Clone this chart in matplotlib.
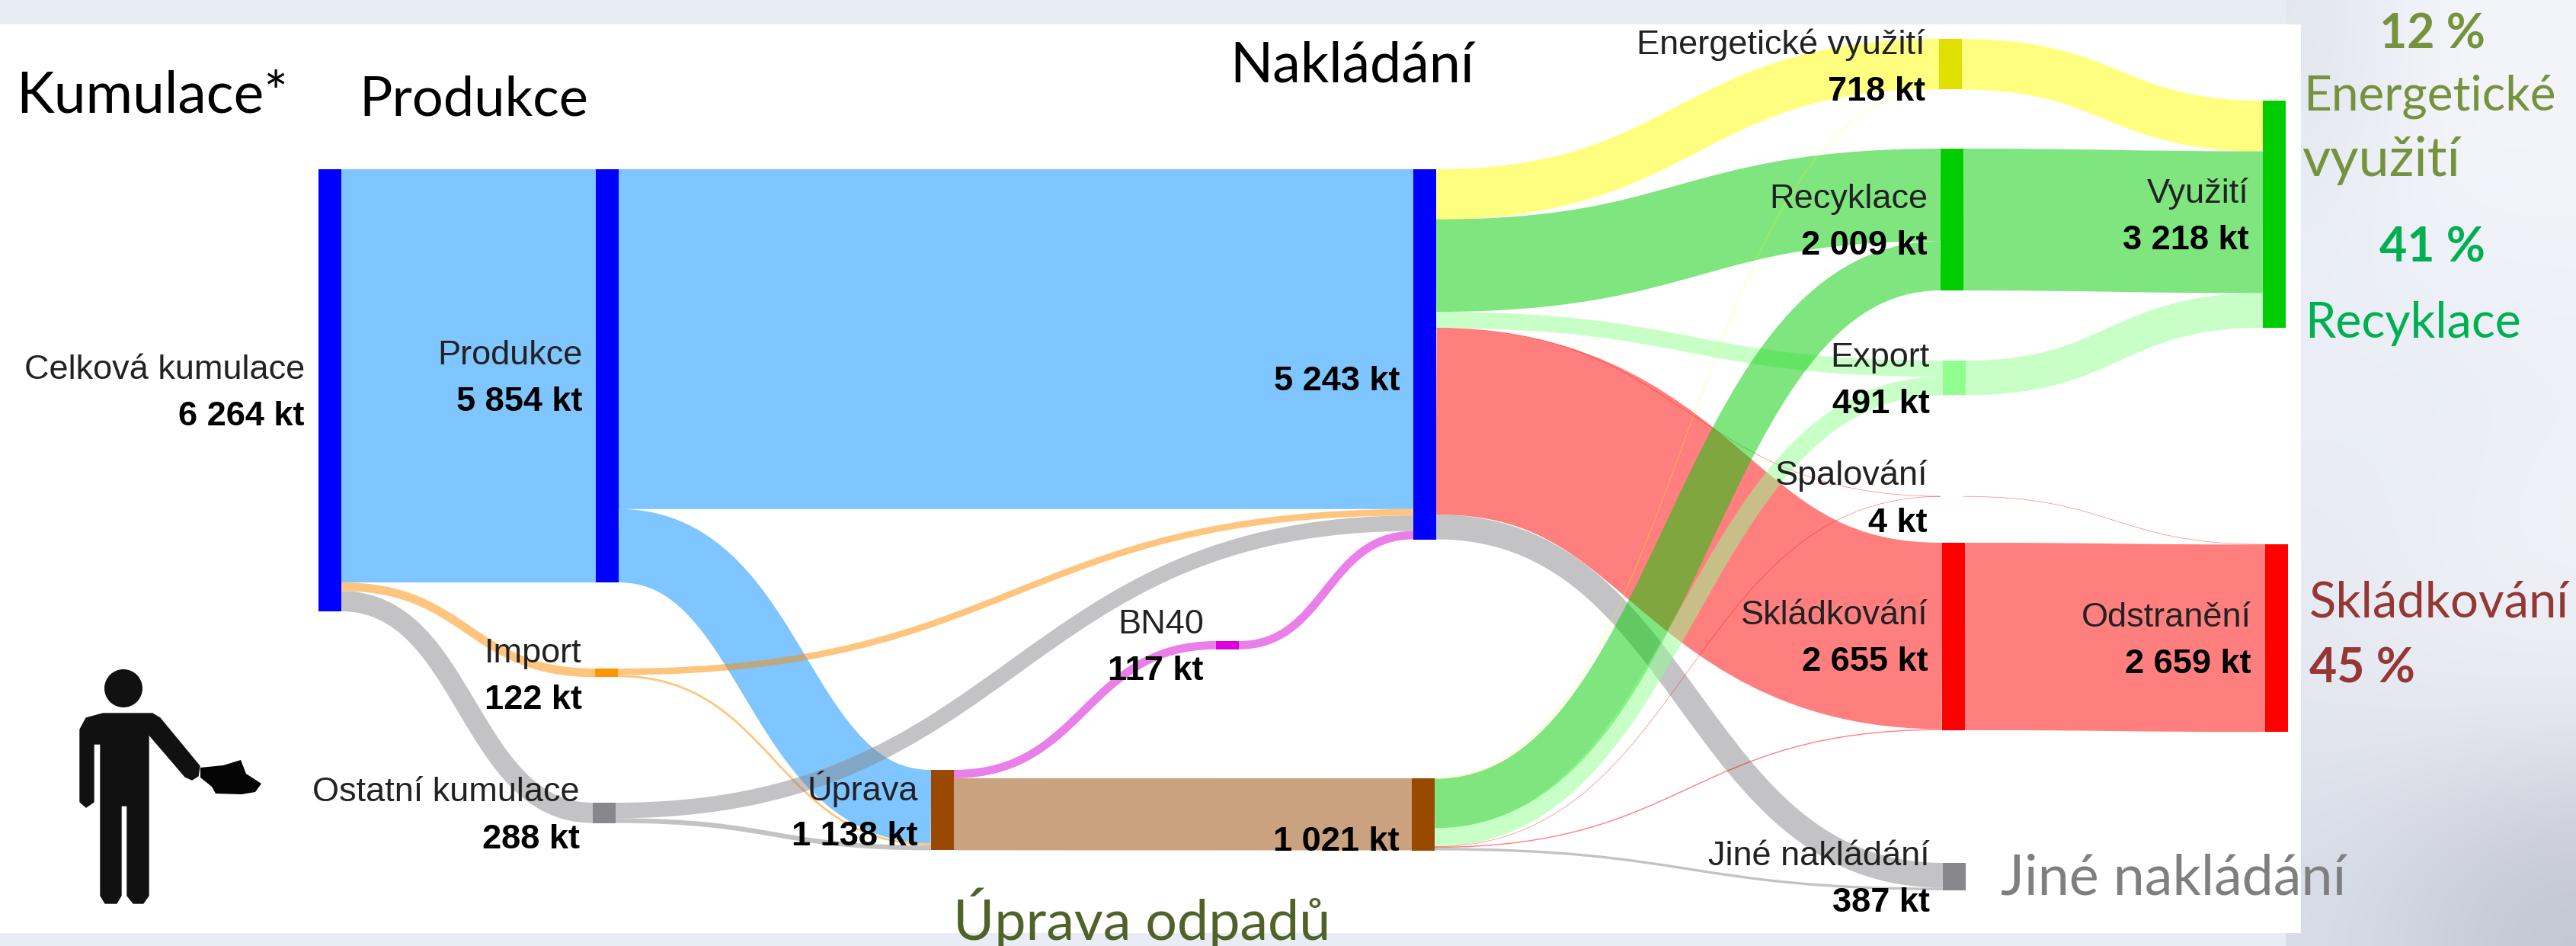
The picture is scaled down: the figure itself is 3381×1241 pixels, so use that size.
#!/usr/bin/env python3
import numpy as np
import matplotlib
matplotlib.use('Agg')
import matplotlib.pyplot as plt
from matplotlib.patches import PathPatch, Rectangle, Ellipse, Polygon
from matplotlib.path import Path

# Data, kt
node_names = ['Celková kumulace', 'Produkce', 'Import', 'Ostatní kumulace', 'Úprava', 'BN40', '',
              '', 'Energetické využití', 'Recyklace', 'Export', 'Spalování', 'Skládkování',
              'Jiné nakládání', 'Využití', 'Odstranění']
node_values = [6264, 5854, 122, 288, 1138, 117, 1021, 5243, 718, 2009, 491, 4, 2655, 387, 3218, 2659]

link_src = [0, 0, 0, 1, 1, 2, 2, 3, 3, 4, 4, 5,
            7, 7, 7, 7, 7, 7,
            6, 6, 6, 6, 6, 6,
            8, 9, 10, 11, 12]
link_dst = [1, 2, 3, 7, 4, 7, 4, 7, 4, 5, 6, 7,
            8, 9, 10, 11, 12, 13,
            8, 9, 10, 11, 12, 13,
            14, 14, 14, 15, 15]
link_val = [5854, 122, 288, 4814, 1040, 92, 30, 220, 68, 117, 1021, 117,
            710, 1310, 230, 2, 2640, 351,
            8, 699, 261, 2, 15, 36,
            718, 2009, 491, 4, 2655]

# Layout (pixels of the 3381x1241 canvas)
px_per_kt = 0.0926
node_w = 30
node_x = [418, 782, 781, 778, 1222, 1596, 1853, 1855, 2545, 2547, 2550, 2547, 2549, 2550, 2970, 2973]
node_top = [222, 222, 877, 1053, 1010, 841, 1021, 222, 51, 195, 473, 651, 712, 1132, 132, 714]
node_col = ['#0000ff', '#0000ff', '#ff9600', '#88888c', '#994a00', '#dc00dc', '#994a00', '#0000ff',
            '#e0e000', '#00cd00', '#90ff90', '#cc3333', '#ff0000', '#88888c', '#00cd00', '#ff0000']
link_col = ['#008cff', '#ff8c00', '#88888c', '#008cff', '#008cff', '#ff8c00', '#ff8c00', '#88888c', '#88888c',
            '#d700d7', '#964600', '#d700d7',
            '#ffff00', '#00cd00', '#90ff90', '#ff0000', '#ff0000', '#88888c',
            '#ffff00', '#00cd00', '#90ff90', '#ff0000', '#ff0000', '#88888c',
            '#ffff00', '#00cd00', '#90ff90', '#ff0000', '#ff0000']

# name right edge, name y, value y
label_right = [400, 765, 764, 761, 1205, 1580, 1837, 1838, 2527, 2530, 2533, 2530, 2531, 2533, 2952, 2955]
label_y1 = [480, 461, 852, 1034, 1033, 814, 0, 0, 54, 256, 464, 619, 802, 1118, 249, 805]
label_y2 = [541, 522, 913, 1096, 1092, 875, 1099, 495, 115, 317, 525, 681, 863, 1179, 310, 866]

head_txt = ['Kumulace*', 'Produkce', 'Nakládání', 'Úprava odpadů', 'Jiné nakládání',
            'Energetické', 'využití', 'Recyklace', 'Skládkování']
head_x = [21, 471, 1614, 1251, 2626, 3023, 3021, 3025, 3031]
head_y = [148, 152, 107, 1233, 1174, 144, 231, 443, 810]
head_size = [54, 52, 53, 53, 53, 46, 52, 46.5, 47]
head_col = ['black', 'black', 'black', '#4f6228', '#7f7f7f', '#76923c', '#76923c', '#00b050', '#953735']

pct_txt = ['12 %', '41 %', '45 %']
pct_x = [3123, 3123, 3031]
pct_y = [63, 343, 895]
pct_col = ['#76923c', '#00b050', '#953735']

# backdrop colours, coarse
bg_right = np.array([[[226, 230, 238], [243, 245, 250], [243, 245, 250]],
                     [[234, 238, 246], [240, 243, 249], [240, 243, 249]],
                     [[235, 238, 246], [232, 236, 244], [236, 239, 246]],
                     [[232, 235, 243], [236, 239, 245], [240, 242, 248]],
                     [[228, 232, 240], [232, 235, 242], [232, 235, 242]],
                     [[216, 220, 230], [205, 209, 220], [195, 199, 210]]]) / 255

W, H = 3381, 1241
fig = plt.figure(figsize=(W / 100, H / 100), dpi=100, facecolor='#e8ecf4')
ax = fig.add_axes([0, 0, 1, 1])
ax.axis('off')

ax.imshow(bg_right, extent=(3000, W, H, 0), aspect='auto', interpolation='bicubic', zorder=0)
ax.set_xlim(0, W)
ax.set_ylim(H, 0)
ax.add_patch(Rectangle((0, 32), 3020, 1192, fc='white', ec='none', zorder=1))

# links are stroked, so their width stays the same along the slope
out_off = [0.0] * len(node_x)
in_off = [0.0] * len(node_x)
for s, d, v, c in zip(link_src, link_dst, link_val, link_col):
    h = v * px_per_kt
    x0 = node_x[s] + node_w
    x1 = node_x[d]
    y0 = node_top[s] + out_off[s] + h / 2
    y1 = node_top[d] + in_off[d] + h / 2
    out_off[s] += h
    in_off[d] += h
    xm = (x0 + x1) / 2
    verts = [(x0, y0), (xm, y0), (xm, y1), (x1, y1)]
    codes = [Path.MOVETO, Path.CURVE4, Path.CURVE4, Path.CURVE4]
    lw = max(h * 0.72, 0.5)
    ax.add_patch(PathPatch(Path(verts, codes), fc='none', ec=c, lw=lw, capstyle='butt', alpha=0.5, zorder=2))

# nodes
for x, t, v, c in zip(node_x, node_top, node_values, node_col):
    ax.add_patch(Rectangle((x, t), node_w, v * px_per_kt, fc=c, ec='none', zorder=3))


def fmt(v):
    return f'{v:,}'.replace(',', ' ') + ' kt'


lab_font = ['Liberation Sans']
for name, v, r, y1, y2 in zip(node_names, node_values, label_right, label_y1, label_y2):
    if name:
        ax.text(r, y1 + 17, name, ha='right', va='baseline', fontsize=32.5, family=lab_font, color='#222222', zorder=5)
    ax.text(r, y2 + 17, fmt(v), ha='right', va='baseline', fontsize=32.5, family=lab_font, weight='bold', color='black', zorder=5)

for t, x, y, c, fs in zip(head_txt, head_x, head_y, head_col, head_size):
    ax.text(x, y, t, ha='left', va='baseline', fontsize=fs, family=['Lato'], color=c, zorder=5)
for t, x, y, c in zip(pct_txt, pct_x, pct_y, pct_col):
    ax.text(x, y, t, ha='left', va='baseline', fontsize=45, family=['Lato'], weight='bold', color=c, zorder=5)

# person with the waste
pk = '#111111'
ax.add_patch(Ellipse((162, 903), 50, 50, fc=pk, ec='none', zorder=4))
body = [(105, 957), (113, 942), (135, 936), (200, 936), (210, 942), (262, 1005), (260, 1018), (252, 1023), (243, 1019),
        (195, 963), (195, 1175), (188, 1185), (175, 1185), (167, 1175), (167, 1057), (159, 1057),
        (159, 1175), (153, 1185), (138, 1185), (132, 1175), (132, 976), (123, 976), (123, 1052), (113, 1059), (105, 1052)]
ax.add_patch(Polygon(body, closed=True, fc=pk, ec=pk, lw=1, joinstyle='round', zorder=4))
paper = [(263, 1007), (293, 1004), (316, 997), (323, 1015), (343, 1028), (335, 1039), (317, 1042), (283, 1041),
         (278, 1032), (263, 1020)]
ax.add_patch(Polygon(paper, closed=True, fc='#050505', ec='none', zorder=4))

fig.savefig('out.png', dpi=100, facecolor=fig.get_facecolor())
